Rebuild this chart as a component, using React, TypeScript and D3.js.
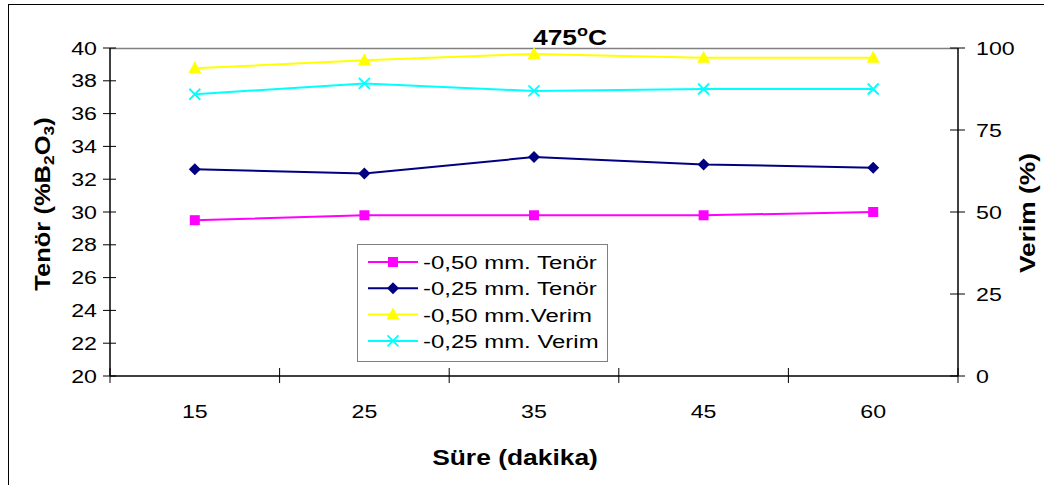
import React, { useRef, useEffect } from 'react';
import * as d3 from 'd3';

// time categories (minutes)
const sureLabels = ['15', '25', '35', '45', '60'];

// Tenör values (% B2O3), left axis
const tenor050 = [29.5, 29.8, 29.8, 29.8, 30.0];
const tenor025 = [32.6, 32.35, 33.35, 32.9, 32.7];

// Verim values (%), right axis
const verim050 = [93.8, 96.3, 98.2, 97.0, 97.0];
const verim025 = [85.9, 89.2, 86.9, 87.5, 87.5];

const leftTicks = [20, 22, 24, 26, 28, 30, 32, 34, 36, 38, 40];
const rightTicks = [0, 25, 50, 75, 100];

const legendNames = ['-0,50 mm. Tenör', '-0,25 mm. Tenör', '-0,50 mm.Verim', '-0,25 mm. Verim'];

const App = () => {
  const svgRef = useRef<SVGSVGElement>(null);

  useEffect(() => {
    const svg = d3.select(svgRef.current);
    svg.selectAll('*').remove();

    const W = 1044, H = 485;
    const plot = { left: 110, right: 958, top: 48, bottom: 376 };
    const font = 'Liberation Sans, Arial, sans-serif';

    // text in the original is a bit wider than Arial, so stretch it horizontally
    const txt = (g: any, x: number, y: number, size: number, anchor: string, sx: number, rot = 0, bold = false) =>
      g.append('text')
        .attr('transform', `translate(${x},${y}) rotate(${rot}) scale(${sx},1)`)
        .attr('text-anchor', anchor)
        .attr('font-family', font).attr('font-size', size)
        .attr('font-weight', bold ? 'bold' : 'normal');

    svg.append('rect').attr('width', W).attr('height', H).attr('fill', '#fff');
    // outer chart frame
    svg.append('rect')
      .attr('x', 8.5).attr('y', 4.5).attr('width', W + 10).attr('height', H + 10)
      .attr('fill', 'none').attr('stroke', '#000').attr('stroke-width', 1);

    const x = d3.scaleBand()
      .domain(sureLabels)
      .range([plot.left, plot.right]);

    const yL = d3.scaleLinear().domain([20, 40]).range([plot.bottom, plot.top]);
    const yR = d3.scaleLinear().domain([0, 100]).range([plot.bottom, plot.top]);

    // plot area border (grey top)
    svg.append('path')
      .attr('d', `M${plot.left},${plot.top + 0.5}H${plot.right}`)
      .attr('stroke', '#808080').attr('stroke-width', 1.5).attr('fill', 'none');

    // left axis
    const gL = svg.append('g');
    gL.append('line')
      .attr('x1', plot.left).attr('x2', plot.left)
      .attr('y1', plot.top).attr('y2', plot.bottom)
      .attr('stroke', '#000').attr('stroke-width', 1.5);
    leftTicks.forEach(t => {
      gL.append('line')
        .attr('x1', plot.left - 7).attr('x2', plot.left + 6)
        .attr('y1', yL(t)).attr('y2', yL(t))
        .attr('stroke', '#000').attr('stroke-width', 1);
      txt(gL, plot.left - 13, yL(t) + 6.5, 19, 'end', 1.22).text(t);
    });

    // right axis
    const gR = svg.append('g');
    gR.append('line')
      .attr('x1', plot.right).attr('x2', plot.right)
      .attr('y1', plot.top).attr('y2', plot.bottom)
      .attr('stroke', '#000').attr('stroke-width', 1.5);
    rightTicks.forEach(t => {
      gR.append('line')
        .attr('x1', plot.right - 8).attr('x2', plot.right + 7)
        .attr('y1', yR(t)).attr('y2', yR(t))
        .attr('stroke', '#000').attr('stroke-width', 1);
      txt(gR, plot.right + 18, yR(t) + 6.5, 19, 'start', 1.22).text(t);
    });

    // bottom axis
    const gB = svg.append('g');
    gB.append('line')
      .attr('x1', plot.left).attr('x2', plot.right)
      .attr('y1', plot.bottom).attr('y2', plot.bottom)
      .attr('stroke', '#000').attr('stroke-width', 1.5);
    const boundaries = sureLabels.map(d => x(d) as number).concat([plot.right]);
    boundaries.forEach(b => {
      gB.append('line')
        .attr('x1', b).attr('x2', b)
        .attr('y1', plot.bottom - 8).attr('y2', plot.bottom + 7)
        .attr('stroke', '#000').attr('stroke-width', 1);
    });
    sureLabels.forEach(d => {
      txt(gB, (x(d) as number) + x.bandwidth() / 2, 418, 19, 'middle', 1.22).text(d);
    });

    // titles
    const title = txt(svg, 570, 45, 22, 'middle', 1.2, 0, true);
    title.append('tspan').text('475');
    title.append('tspan').attr('font-size', 15).attr('dy', -9).text('o');
    title.append('tspan').attr('dy', 9).text('C');

    txt(svg, 515, 465, 22, 'middle', 1.2, 0, true).text('Süre (dakika)');

    const yTitle = txt(svg, 50, 204, 22, 'middle', 1.16, -90, true);
    yTitle.append('tspan').text('Tenör (%B');
    yTitle.append('tspan').attr('font-size', 15).attr('dy', 4).text('2');
    yTitle.append('tspan').attr('dy', -4).text('O');
    yTitle.append('tspan').attr('font-size', 15).attr('dy', 4).text('3');
    yTitle.append('tspan').attr('dy', -4).text(')');

    txt(svg, 1035, 213, 22, 'middle', 1.2, -90, true).text('Verim (%)');

    const cx = (i: number) => (x(sureLabels[i]) as number) + x.bandwidth() / 2;

    const series = [
      { name: legendNames[0], values: tenor050, y: yL, color: '#FF00FF', marker: 'square' },
      { name: legendNames[1], values: tenor025, y: yL, color: '#000080', marker: 'diamond' },
      { name: legendNames[2], values: verim050, y: yR, color: '#FFFF00', marker: 'triangle' },
      { name: legendNames[3], values: verim025, y: yR, color: '#00FFFF', marker: 'cross' },
    ];

    const drawMarker = (g: any, type: string, px: number, py: number, color: string) => {
      if (type === 'square') {
        g.append('rect').attr('x', px - 5).attr('y', py - 5).attr('width', 10).attr('height', 10).attr('fill', color);
      } else if (type === 'diamond') {
        g.append('path').attr('d', `M${px},${py - 6}L${px + 6},${py}L${px},${py + 6}L${px - 6},${py}Z`).attr('fill', color);
      } else if (type === 'triangle') {
        g.append('path').attr('d', `M${px},${py - 7}L${px + 6.5},${py + 5}L${px - 6.5},${py + 5}Z`).attr('fill', color);
      } else {
        g.append('path').attr('d', `M${px - 5.5},${py - 5.5}L${px + 5.5},${py + 5.5}M${px + 5.5},${py - 5.5}L${px - 5.5},${py + 5.5}`)
          .attr('stroke', color).attr('stroke-width', 1.8).attr('fill', 'none');
      }
    };

    series.forEach(s => {
      const line = d3.line<number>()
        .x((d, i) => cx(i))
        .y(d => s.y(d));
      const g = svg.append('g');
      g.append('path')
        .attr('d', line(s.values))
        .attr('fill', 'none').attr('stroke', s.color).attr('stroke-width', 2);
      s.values.forEach((v, i) => drawMarker(g, s.marker, cx(i), s.y(v), s.color));
    });

    // legend
    const lg = svg.append('g');
    lg.append('rect')
      .attr('x', 357.5).attr('y', 244.5).attr('width', 250).attr('height', 117)
      .attr('fill', '#fff').attr('stroke', '#808080').attr('stroke-width', 1);
    series.forEach((s, i) => {
      const ly = 262 + i * 26.3;
      lg.append('line')
        .attr('x1', 368).attr('x2', 418).attr('y1', ly).attr('y2', ly)
        .attr('stroke', s.color).attr('stroke-width', 2);
      drawMarker(lg, s.marker, 393, ly, s.color);
      txt(lg, 423, ly + 7, 19, 'start', 1.26).text(s.name);
    });
  }, []);

  return (
    <svg ref={svgRef} width="1044" height="485" style={{ position: 'absolute', left: 0, top: 0 }}></svg>
  );
};

export default App;
